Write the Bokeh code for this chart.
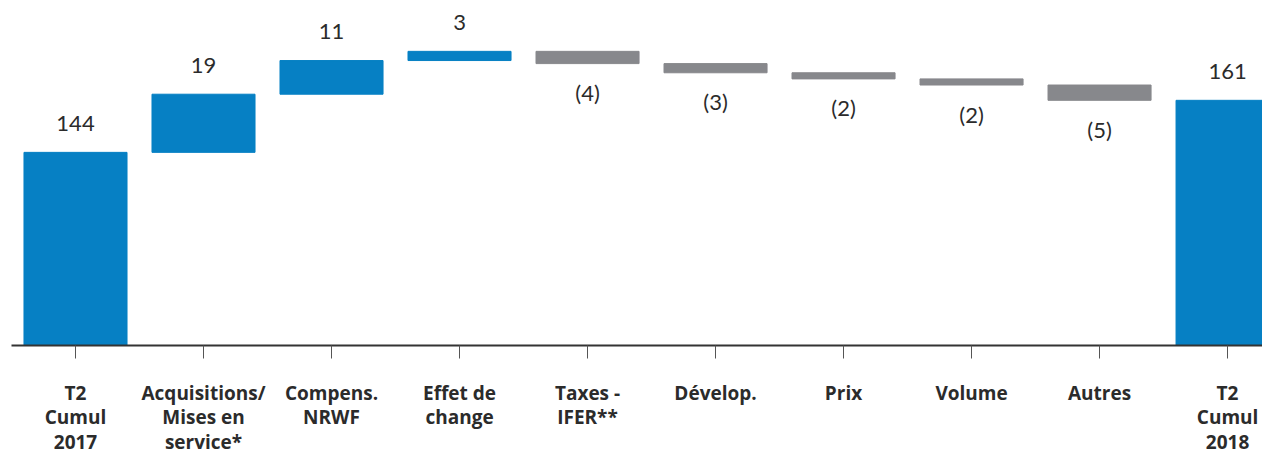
from bokeh.plotting import figure
from bokeh.models import ColumnDataSource, FixedTicker, Range1d
from bokeh.core.properties import value
from bokeh.embed import file_html
from bokeh.resources import INLINE

categories = ["T2\nCumul\n2017", "Acquisitions/\nMises en\nservice*", "Compens.\nNRWF",
              "Effet de\nchange", "Taxes -\nIFER**", "Dévelop.", "Prix", "Volume",
              "Autres", "T2\nCumul\n2018"]
values = [144, 19, 11, 3, -4, -3, -2, -2, -5, 161]
is_total = [True, False, False, False, False, False, False, False, False, True]
value_labels = ["144", "19", "11", "3", "(4)", "(3)", "(2)", "(2)", "(5)", "161"]

BLUE = "#0680c4"
GREY = "#87888c"

xs, tops, bottoms, colors = [], [], [], []
running = 0
for i, (v, t) in enumerate(zip(values, is_total)):
    xs.append(i)
    if t:
        bottoms.append(0)
        tops.append(v)
        running = v
    else:
        new = running + v
        bottoms.append(min(running, new))
        tops.append(max(running, new))
        running = new
    colors.append(BLUE if v > 0 else GREY)

pos = [i for i, v in enumerate(values) if v > 0]
neg = [i for i, v in enumerate(values) if v < 0]

src = ColumnDataSource(dict(x=xs, top=tops, bottom=bottoms, color=colors))
src_pos = ColumnDataSource(dict(x=[xs[i] for i in pos], y=[tops[i] for i in pos],
                                t=[value_labels[i] for i in pos]))
src_neg = ColumnDataSource(dict(x=[xs[i] for i in neg], y=[bottoms[i] for i in neg],
                                t=[value_labels[i] for i in neg]))

p = figure(frame_width=1251, frame_height=337, output_backend="svg", toolbar_location=None,
           x_range=Range1d(-0.5, 9.273), y_range=Range1d(80.9, 191.0),
           y_axis_location=None, min_border_left=11, min_border_right=0,
           min_border_top=8, min_border_bottom=0)
p.outline_line_color = None
p.xgrid.visible = False
p.ygrid.visible = False
p.background_fill_color = "white"

p.vbar(x="x", top="top", bottom="bottom", width=0.805, color="color", source=src)

p.text(x="x", y="y", text="t", source=src_pos, text_align="center", text_baseline="middle",
       y_offset=-29, text_font=value("Lato"), text_font_size="22px", text_color="#2b2b2b")
p.text(x="x", y="y", text="t", source=src_neg, text_align="center", text_baseline="middle",
       y_offset=29, text_font=value("Lato"), text_font_size="22px", text_color="#2b2b2b")

ax = p.xaxis[0]
ax.ticker = FixedTicker(ticks=list(range(len(categories))))
ax.major_label_overrides = {i: c for i, c in enumerate(categories)}
ax.axis_line_color = "#333333"
ax.axis_line_width = 2
ax.major_tick_line_color = "#555555"
ax.major_tick_line_width = 1
ax.major_tick_in = 0
ax.major_tick_out = 13
ax.minor_tick_line_color = None
ax.major_label_standoff = 21
ax.major_label_text_font = "Open Sans"
ax.major_label_text_font_style = "bold"
ax.major_label_text_font_size = "19px"
ax.major_label_text_color = "#2b2b2b"
ax.major_label_text_line_height = 0.96

open("out.html", "w").write(file_html(p, INLINE))
